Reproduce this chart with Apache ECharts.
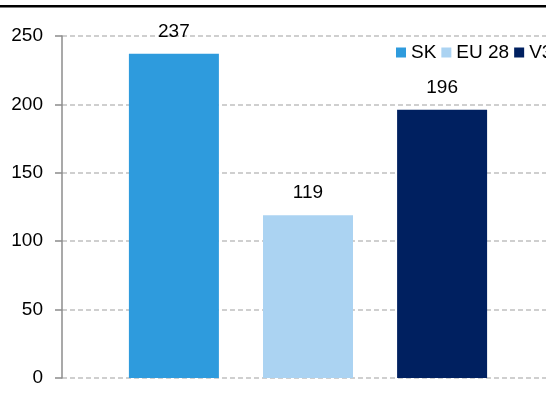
<!DOCTYPE html>
<html><head><meta charset="utf-8">
<script src="https://cdn.jsdelivr.net/npm/echarts@6/dist/echarts.min.js"></script>
<style>html,body{margin:0;padding:0;background:#fff}#c{width:546px;height:404px}</style>
</head><body><div id="c"></div>
<script>
const categories = [''];
const seriesNames = ['SK', 'EU 28', 'V3'];
const values = [237, 119, 196];
const colors = ['#2E9BDD', '#ABD3F2', '#002060'];
const yTicks = [0, 50, 100, 150, 200, 250];

const FONT = '"Liberation Sans", Arial, sans-serif';
const FS = 19;
const yMin = yTicks[0], yMax = yTicks[yTicks.length - 1];
const chart = echarts.init(document.getElementById('c'));
chart.setOption({
  animation: false,
  textStyle: { fontFamily: FONT },
  graphic: [
    { type: 'rect', shape: { x: 0, y: 5, width: 546, height: 2.5 }, style: { fill: '#000' } }
  ],
  legend: {
    data: seriesNames,
    left: 391, top: 38, width: 400,
    itemWidth: 10, itemHeight: 10, itemGap: 5,
    icon: 'rect',
    textStyle: { fontSize: FS, fontFamily: FONT, color: '#000' }
  },
  grid: [
    { left: 62, top: 36, right: 0, height: 342, containLabel: false },
    { left: 70, top: 36, right: 0, height: 342, containLabel: false }
  ],
  xAxis: [
    { gridIndex: 0, type: 'category', data: categories, show: false },
    { gridIndex: 1, type: 'category', data: categories,
      axisLine: { show: false }, axisTick: { show: false }, axisLabel: { show: false } }
  ],
  yAxis: [
    { gridIndex: 0, type: 'value', min: yMin, max: yMax, interval: 50,
      axisLine: { show: true, lineStyle: { color: '#8c8c8c', width: 1.5 } },
      axisTick: { show: true, length: 7, lineStyle: { color: '#8c8c8c', width: 1.5 } },
      axisLabel: { fontSize: FS, fontFamily: FONT, color: '#000', margin: 19 },
      splitLine: { show: true, lineStyle: { color: '#c0c0c0', type: [5, 3], width: 1.5 } }
    },
    { gridIndex: 1, type: 'value', min: yMin, max: yMax, interval: 50, show: false }
  ],
  series: seriesNames.map((n, i) => ({
    name: n, type: 'bar', data: [values[i]],
    xAxisIndex: 1, yAxisIndex: 1,
    barWidth: 90, barGap: '49%',
    itemStyle: { color: colors[i] },
    label: { show: true, position: 'top', distance: 13, fontSize: FS, fontFamily: FONT, color: '#000' }
  }))
});
</script></body></html>
